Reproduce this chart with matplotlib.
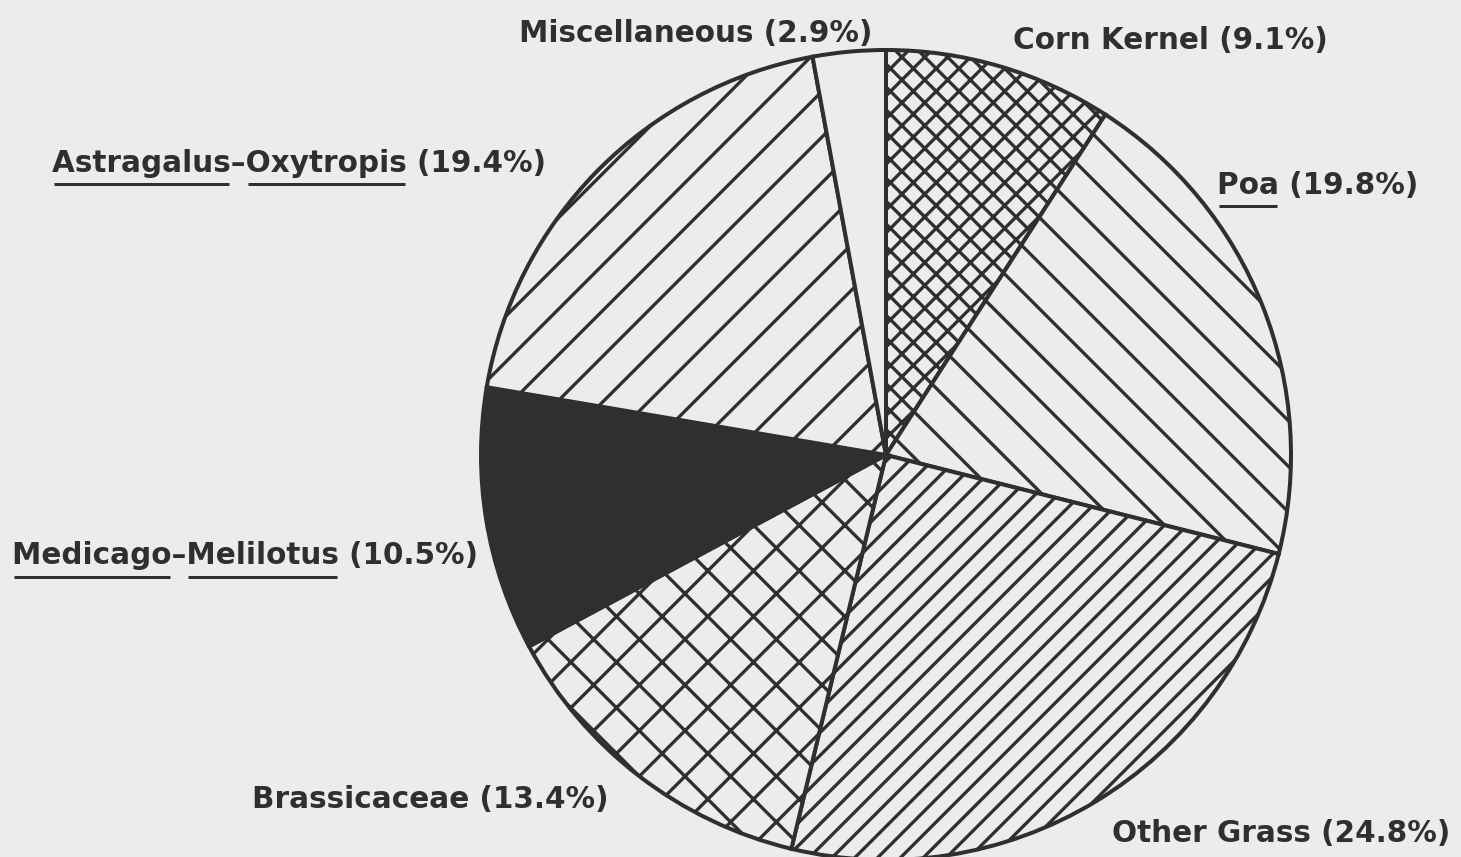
import matplotlib
matplotlib.use("Agg")
import matplotlib.pyplot as plt

# diet composition, clockwise from 12 o'clock
names = ["Corn Kernel", "Poa", "Other Grass", "Brassicaceae",
         "Medicago\u2013Melilotus", "Astragalus\u2013Oxytropis", "Miscellaneous"]
shares = [9.1, 19.8, 24.8, 13.4, 10.5, 19.4, 2.9]
underlined = [[], ["Poa"], [], [], ["Medicago", "Melilotus"],
              ["Astragalus", "Oxytropis"], []]

# styling (kept apart from the data)
W, H, DPI = 1461, 857, 137
pt = 72.0 / DPI                      # one pixel in points
paper = "#ececec"
ink = "#2f2f2f"
hatches = ["xx", "\\", "//", "x", "", "/", ""]
fills = [paper, paper, paper, paper, ink, paper, paper]
label_pos = [(1013, 40), (1217, 185), (1112, 833), (252, 800),
             (12, 556), (52, 163), (519, 33)]   # left x, centre y in pixels
pie_centre = (886, H - 455)
pie_radius = 405

plt.rcParams['hatch.linewidth'] = 3.3 * pt
plt.rcParams['font.family'] = ['DejaVu Sans']

fig = plt.figure(figsize=(W / DPI, H / DPI), dpi=DPI, facecolor=paper)
ax = fig.add_axes([0, 0, 1, 1])
ax.set_facecolor(paper)

wedges, _ = ax.pie(shares, startangle=90, counterclock=False,
                   center=pie_centre, radius=pie_radius,
                   wedgeprops=dict(edgecolor=ink, linewidth=4.0 * pt))
for w, h, f in zip(wedges, hatches, fills):
    w.set_facecolor(f)
    w.set_hatch(h)

ax.set_xlim(0, W)
ax.set_ylim(0, H)
ax.set_aspect('equal')
ax.axis('off')

font = dict(fontsize=29.5 * pt, fontweight='bold', color=ink, ha='left', va='center')
renderer = fig.canvas.get_renderer()
inv = ax.transData.inverted()


def text_width(s, x, y):
    if not s:
        return 0.0
    tmp = ax.text(x, y, s, **font)
    wd = tmp.get_window_extent(renderer).width
    tmp.remove()
    return wd


for name, share, words, (px, py) in zip(names, shares, underlined, label_pos):
    full = f"{name} ({share}%)"
    x, y = px, H - py
    t = ax.text(x, y, full, **font)
    bb = t.get_window_extent(renderer)
    x0_disp = ax.transData.transform((x, y))[0]
    for word in words:
        i = full.index(word)
        a = text_width(full[:i], x, y)
        b = text_width(full[:i + len(word)], x, y)
        y_line = bb.y0 - 6
        p0 = inv.transform((x0_disp + a + 2, y_line))
        p1 = inv.transform((x0_disp + b - 2, y_line))
        ax.plot([p0[0], p1[0]], [p0[1], p1[1]], color=ink, linewidth=3.0 * pt,
                solid_capstyle='butt')

fig.savefig("out.png", dpi=DPI, facecolor=paper)
